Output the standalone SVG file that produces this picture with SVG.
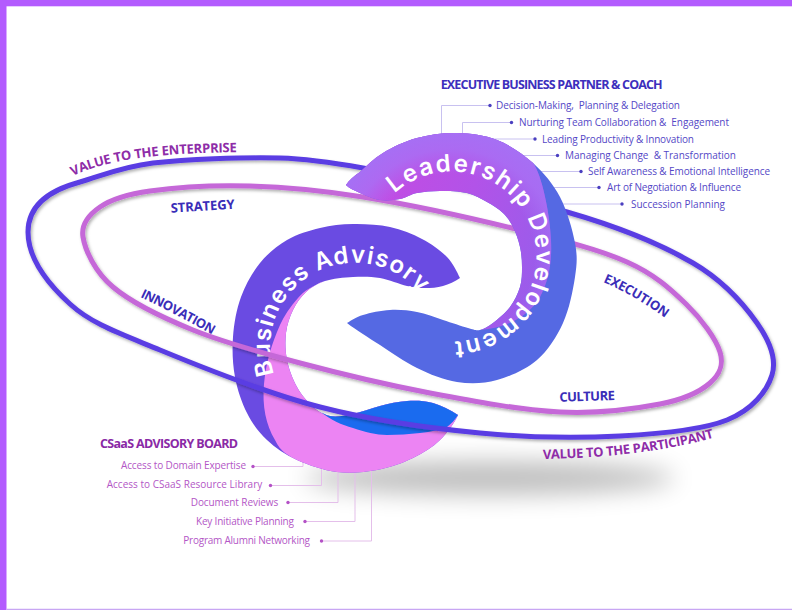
<svg xmlns="http://www.w3.org/2000/svg" width="792" height="610" viewBox="0 0 792 610">
<defs>
<style>
.lst{font-family:"Open Sans","Liberation Sans",sans-serif;font-size:10px;fill:#5447c6}
.lst2{font-family:"Open Sans","Liberation Sans",sans-serif;font-size:10px;fill:#b356c6}
.hd{font-family:"Open Sans","Liberation Sans",sans-serif;font-weight:700;font-size:12.5px}
.lbl{font-family:"Open Sans","Liberation Sans",sans-serif;font-weight:700;font-size:13px}
.ind{fill:#3a2db8}
.pur{fill:#8e2ca8}
.big{font-family:"Inter","Open Sans",sans-serif;font-weight:600;font-size:24px;fill:#ffffff}
.cl{fill:none;stroke:#c8c1f0;stroke-width:1}
.cl2{fill:none;stroke:#e4bfea;stroke-width:1}
.b1{fill:#4a3fc0}
.b2{fill:#b451c6}
.loop{fill:none;stroke-width:5}
</style>
<filter id="ds" x="-5%" y="-10%" width="110%" height="125%">
<feDropShadow dx="1.5" dy="2" stdDeviation="1.5" flood-color="#000" flood-opacity="0.3"/>
</filter>
<filter id="blur" x="-50%" y="-300%" width="200%" height="700%">
<feGaussianBlur stdDeviation="12"/>
</filter>
<linearGradient id="gLeadL" gradientUnits="userSpaceOnUse" x1="350" y1="200" x2="550" y2="260">
<stop offset="0" stop-color="#c64ae2"/>
<stop offset="0.55" stop-color="#b253e8"/>
<stop offset="1" stop-color="#985deb"/>
</linearGradient>
<radialGradient id="gLeadR" gradientUnits="userSpaceOnUse" cx="451.5" cy="256.5" r="125">
<stop offset="0.66" stop-color="#a96ff4" stop-opacity="0"/>
<stop offset="0.86" stop-color="#a96ff4" stop-opacity="0.85"/>
<stop offset="1" stop-color="#a66ff4" stop-opacity="1"/>
</radialGradient>
<path id="p-lead" d="M 394.6,193.3 A 85 85 0 1 1 411.6,331.6"/>
<path id="p-bus" d="M 274.2,374.3 A 85 85 0 0 1 434.9,318.9"/>
<path id="p-ent" d="M 73,176 C 108,159 160,153 240,152"/>
<path id="p-inn" d="M 140,297 Q 176,314 218,338"/>
<path id="p-exe" d="M 603,282 Q 636,296 668,320"/>
<path id="p-par" d="M 543,459 C 590,458 650,455 717,437"/>
<path id="leadTop" d="M 346,185 C 349,180 354,176 360,172 C 366.2,166.2 373.5,158.7 383,153 C 392.5,147.3 404.7,141.3 417,138 C 429.3,134.7 443.7,132.7 457,133 C 470.3,133.3 484.3,135 497,140 C 509.7,145 522.5,153.5 533,163 C 542,175 550,215 551,240 C 552,262 549,280 540,297 C 531,313 510,328 480,330 C 484.2,329.2 488,326.8 493,323 C 498,319.2 505.5,313 510,307 C 514.5,301 518,293.7 520,287 C 522,280.3 522,273.7 522,267 C 522,260.3 521.5,253.7 520,247 C 518.5,240.3 515.8,232.7 513,227 C 510.2,221.3 507.3,217.2 503,213 C 498.7,208.8 493,205.3 487,202 C 481,198.7 474.8,194.8 467,193 C 459.2,191.2 448.3,191 440,191 C 431.7,191 423.7,191.7 417,193 C 410.3,194.3 406.2,197.8 400,199 C 393.8,200.2 386.7,201 380,200 C 373.3,199 365.7,195.5 360,193 C 354.3,190.5 349,188 346,185 Z"/>
</defs>

<rect width="792" height="610" fill="#ffffff"/>
<g id="border">
<rect x="0" y="0" width="792" height="6.3" fill="#b35bfe"/>
<rect x="0" y="0" width="6.5" height="610" fill="#b35bfe"/>
<line x1="6.5" y1="609.3" x2="792" y2="609.3" stroke="#c8a6f3" stroke-width="1.3"/>
</g>

<g id="ground-shadow">
<ellipse cx="490" cy="478" rx="185" ry="17" fill="#000" opacity="0.25" filter="url(#blur)"/>
</g>

<g id="connectors">
<path class="cl" d="M 490,105.5 H 441.5 V 150"/>
<path class="cl" d="M 511.5,122.5 H 462.5 V 150"/>
<path class="cl" d="M 535,139 H 480"/>
<path class="cl" d="M 557.5,155.5 H 505"/>
<path class="cl" d="M 581,171.5 H 525"/>
<path class="cl" d="M 599,187.5 H 540"/>
<path class="cl" d="M 622,204 H 550"/>
<path class="cl2" d="M 253,466.5 H 303 V 440"/>
<path class="cl2" d="M 270.5,485.5 H 321.5 V 440"/>
<path class="cl2" d="M 288,502.5 H 338 V 440"/>
<path class="cl2" d="M 305,521.5 H 355 V 440"/>
<path class="cl2" d="M 321.5,541 H 371.5 V 440"/>
</g>

<g id="node-business">
<path fill="#6a4be2" d="M 460,278 C 457,272 453.3,263.5 447,257 C 440.7,250.5 431.5,244 422,239 C 412.5,234 401.5,229.5 390,227 C 378.5,224.5 364.7,223.8 353,224 C 341.3,224.2 331,225.3 320,228 C 309,230.7 297,234.2 287,240 C 277,245.8 267.7,253.5 260,263 C 252.3,272.5 245.5,284.7 241,297 C 236.5,309.3 234,323.7 233,337 C 232,350.3 232.7,364.3 235,377 C 237.3,389.7 241.7,402.5 247,413 C 252.3,423.5 258.7,432.2 267,440 C 275.3,447.8 285.3,454.7 297,460 C 308.7,465.3 323.7,470.3 337,472 C 350.3,473.7 364.3,472.3 377,470 C 389.7,467.7 402.5,463 413,458 C 423.5,453 432.5,447.2 440,440 C 447.5,432.8 455,422 458,415 C 450,410 441.5,405.3 433,403 C 424.5,400.7 415.8,400.5 407,401 C 398.2,401.5 389,403.8 380,406 C 371,408.2 361.3,412.3 353,414 C 344.7,415.7 336.7,417.2 330,416 C 323.3,414.8 318.5,411.8 313,407 C 307.5,402.2 301.3,394.8 297,387 C 292.7,379.2 288.8,369 287,360 C 285.2,351 285,341.3 286,333 C 287,324.7 289.7,316.8 293,310 C 296.3,303.2 300.7,296.8 306,292 C 311.3,287.2 317.2,283.5 325,281 C 332.8,278.5 343.8,277.5 353,277 C 362.2,276.5 371,276.5 380,278 C 389,279.5 399.5,284.3 407,286 C 414.5,287.7 419,288 425,288 C 431,288 437.2,287.7 443,286 C 448.8,284.3 455,281.5 460,278 Z"/>
<path fill="#ec84f3" d="M 325,281 C 312,286 304,291 298,298 C 290,307 284,316 280,325 C 272,343 266,362 264,384 C 262,406 266,425 275,440 C 278,446 281,450 285,453 C 289,456 293,458 297,460 C 308.7,465.3 323.7,470.3 337,472 C 350.3,473.7 364.3,472.3 377,470 C 389.7,467.7 402.5,463 413,458 C 423.5,453 432.5,447.2 440,440 C 447.5,432.8 455,422 458,415 C 450,410 441.5,405.3 433,403 C 424.5,400.7 415.8,400.5 407,401 C 398.2,401.5 389,403.8 380,406 C 371,408.2 361.3,412.3 353,414 C 344.7,415.7 336.7,417.2 330,416 C 323.3,414.8 318.5,411.8 313,407 C 307.5,402.2 301.3,394.8 297,387 C 292.7,379.2 288.8,369 287,360 C 285.2,351 285,341.3 286,333 C 287,324.7 289.7,316.8 293,310 C 296.3,303.2 300.7,296.8 306,292 C 311.3,287.2 317.2,283.5 325,281 Z"/>
<path fill="#1a6bef" d="M 458,415 C 450,410 441.5,405.3 433,403 C 424.5,400.7 415.8,400.5 407,401 C 398.2,401.5 389,403.8 380,406 C 371,408.2 361.3,412.3 353,414 C 344.7,415.7 336.7,417.2 330,416 C 326,415 323,413.5 320,411 C 330,420 342,425 353,428 C 365,432 376,435 387,435 C 398,435 409,434 420,433 C 431,432 441,429 447,427 C 451,424 455,420 458,415 Z"/>
<text class="big"><textPath href="#p-bus" textLength="234" lengthAdjust="spacing">Business Advisory</textPath></text>
</g>

<g id="loops" filter="url(#ds)">
<path class="loop" stroke="#5a3de3" d="M 28,232 C 28,205 50,190 80,182 C 100,176.5 120,167 153,163 C 186,159.5 240,157 280,158 C 310,158.8 335,163 363,168 C 410.8,177 512,196.2 567,212 C 622,227.8 661.3,244.5 693,263 C 724.7,281.5 743.8,304.3 757,323 C 770.2,341.7 777,358.8 772,375 C 767,391.2 752.3,409.8 727,420 C 701.7,430.2 661.2,433.8 620,436 C 578.8,438.2 530,437.8 480,433 C 430,428.2 373.3,420.8 320,407 C 266.7,393.2 201.7,367.2 160,350 C 118.3,332.8 92,324 70,304 C 48,284 28,258 28,232 Z"/>
<path class="loop" stroke="#c568d8" d="M 83,237 C 80.8,223.7 88.8,214.7 100,207 C 111.2,199.3 125,194.5 150,191 C 175,187.5 214.5,185 250,186 C 285.5,187 318,189.7 363,197 C 408,204.3 476,219.2 520,230 C 564,240.8 599.3,249.7 627,262 C 654.7,274.3 670.5,289 686,304 C 701.5,319 716,338.8 720,352 C 724,365.2 720,374.3 710,383 C 700,391.7 685,399.2 660,404 C 635,408.8 598.3,413.8 560,412 C 521.7,410.2 473.3,401.2 430,393 C 386.7,384.8 339.5,373.5 300,363 C 260.5,352.5 224.2,342.7 193,330 C 161.8,317.3 131.3,302.5 113,287 C 94.7,271.5 85.2,250.3 83,237 Z"/>
</g>

<g id="node-leadership">
<path fill="#5569e3" d="M 346,185 C 349,180 354,176 360,172 C 366.2,166.2 373.5,158.7 383,153 C 392.5,147.3 404.7,141.3 417,138 C 429.3,134.7 443.7,132.7 457,133 C 470.3,133.3 484.3,135 497,140 C 509.7,145 522.5,153.5 533,163 C 543.5,172.5 553,183.7 560,197 C 567,210.3 572.5,229.7 575,243 C 577.5,256.3 577,263.7 575,277 C 573,290.3 569.3,309.2 563,323 C 556.7,336.8 548,350.5 537,360 C 526,369.5 510.3,376.3 497,380 C 483.7,383.7 470.3,384 457,382 C 443.7,380 429.8,374.2 417,368 C 404.2,361.8 391.7,352.5 380,345 C 368.3,337.5 356,330 347,323 C 352,320 355.8,317.2 363,315 C 370.2,312.8 381,310.5 390,310 C 399,309.5 408.2,310.3 417,312 C 425.8,313.7 434.5,317.3 443,320 C 451.5,322.7 461.8,326.3 468,328 C 474.2,329.7 475.8,330.8 480,330 C 484.2,329.2 488,326.8 493,323 C 498,319.2 505.5,313 510,307 C 514.5,301 518,293.7 520,287 C 522,280.3 522,273.7 522,267 C 522,260.3 521.5,253.7 520,247 C 518.5,240.3 515.8,232.7 513,227 C 510.2,221.3 507.3,217.2 503,213 C 498.7,208.8 493,205.3 487,202 C 481,198.7 474.8,194.8 467,193 C 459.2,191.2 448.3,191 440,191 C 431.7,191 423.7,191.7 417,193 C 410.3,194.3 406.2,197.8 400,199 C 393.8,200.2 386.7,201 380,200 C 373.3,199 365.7,195.5 360,193 C 354.3,190.5 349,188 346,185 Z"/>
<use href="#leadTop" fill="url(#gLeadL)"/>
<use href="#leadTop" fill="url(#gLeadR)"/>
<text class="big"><textPath href="#p-lead" textLength="326" lengthAdjust="spacing">Leadership Development</textPath></text>
</g>

<g id="loop-labels">
<text class="lbl pur"><textPath href="#p-ent" textLength="167" lengthAdjust="spacing">VALUE TO THE ENTERPRISE</textPath></text>
<text class="lbl ind" x="171" y="212.7" textLength="64" lengthAdjust="spacing" transform="rotate(-3.6 171 212.7)">STRATEGY</text>
<text class="lbl ind"><textPath href="#p-inn" textLength="82" lengthAdjust="spacing">INNOVATION</textPath></text>
<text class="lbl ind"><textPath href="#p-exe" textLength="72" lengthAdjust="spacing">EXECUTION</textPath></text>
<text class="lbl ind" x="559.5" y="401.8" textLength="55.5" lengthAdjust="spacing" transform="rotate(-1.8 559.5 401.8)">CULTURE</text>
<text class="lbl pur"><textPath href="#p-par" textLength="173" lengthAdjust="spacing">VALUE TO THE PARTICIPANT</textPath></text>
</g>

<g id="list-executive">
<text class="hd" x="440.7" y="89.3" textLength="222" lengthAdjust="spacing" fill="#3d2fbd">EXECUTIVE BUSINESS PARTNER &amp; COACH</text>
<circle class="b1" cx="490" cy="105.5" r="1.7"/>
<text class="lst" x="496" y="109" textLength="184" lengthAdjust="spacing" style="white-space:pre">Decision-Making,  Planning &amp; Delegation</text>
<circle class="b1" cx="511.5" cy="122.5" r="1.7"/>
<text class="lst" x="519" y="126" textLength="210" lengthAdjust="spacing" style="white-space:pre">Nurturing Team Collaboration &amp;  Engagement</text>
<circle class="b1" cx="535" cy="139" r="1.7"/>
<text class="lst" x="542" y="142.7" textLength="152" lengthAdjust="spacing">Leading Productivity &amp; Innovation</text>
<circle class="b1" cx="557.5" cy="155.5" r="1.7"/>
<text class="lst" x="565" y="159" textLength="171" lengthAdjust="spacing" style="white-space:pre">Managing Change  &amp; Transformation</text>
<circle class="b1" cx="581" cy="171.5" r="1.7"/>
<text class="lst" x="588" y="175" textLength="182" lengthAdjust="spacing">Self Awareness &amp; Emotional Intelligence</text>
<circle class="b1" cx="599" cy="187.5" r="1.7"/>
<text class="lst" x="607" y="191" textLength="134" lengthAdjust="spacing">Art of Negotiation &amp; Influence</text>
<circle class="b1" cx="622" cy="204" r="1.7"/>
<text class="lst" x="631" y="207.7" textLength="94" lengthAdjust="spacing">Succession Planning</text>
</g>

<g id="list-csaas">
<text class="hd" x="100" y="448.3" textLength="138" lengthAdjust="spacing" fill="#8a2aa6">CSaaS ADVISORY BOARD</text>
<text class="lst2" x="121" y="469" textLength="125" lengthAdjust="spacing">Access to Domain Expertise</text>
<circle class="b2" cx="253" cy="466.5" r="1.7"/>
<text class="lst2" x="106.7" y="488.3" textLength="155.6" lengthAdjust="spacing">Access to CSaaS Resource Library</text>
<circle class="b2" cx="270.5" cy="485.5" r="1.7"/>
<text class="lst2" x="190.7" y="505.7" textLength="87.6" lengthAdjust="spacing">Document Reviews</text>
<circle class="b2" cx="288" cy="502.5" r="1.7"/>
<text class="lst2" x="196" y="525" textLength="98" lengthAdjust="spacing">Key Initiative Planning</text>
<circle class="b2" cx="305" cy="521.5" r="1.7"/>
<text class="lst2" x="183.3" y="544" textLength="126.7" lengthAdjust="spacing">Program Alumni Networking</text>
<circle class="b2" cx="321.5" cy="541" r="1.7"/>
</g>
</svg>
